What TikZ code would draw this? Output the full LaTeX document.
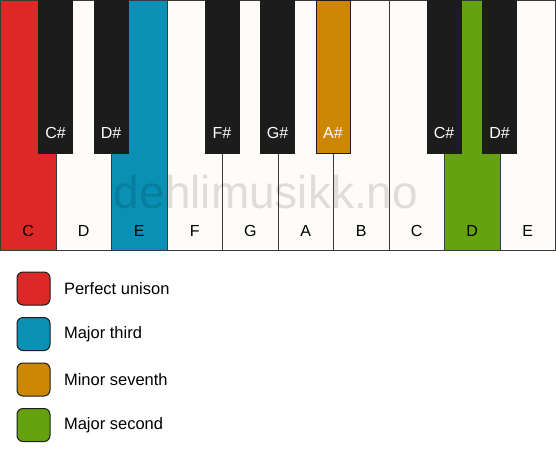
\documentclass[tikz,border=0pt]{standalone}
\usepackage{fontspec}
\setmainfont{Liberation Sans}
\usetikzlibrary{positioning}

\definecolor{ivory}{HTML}{FDFCF9}
\definecolor{ebony}{HTML}{1C1C1C}
\definecolor{keyedge}{HTML}{3A3A3A}
\definecolor{unisonred}{HTML}{DD2828}
\definecolor{thirdblue}{HTML}{0A90B4}
\definecolor{seventhorange}{HTML}{CC8805}
\definecolor{secondgreen}{HTML}{64A30F}

\tikzset{
  whitekey/.style={draw=keyedge, line width=1pt, anchor=north west,
    inner sep=0pt, minimum width=55.5pt, minimum height=250pt},
  blackkey/.style={draw=ebony, line width=1pt, anchor=north,
    inner sep=0pt, minimum width=34pt, minimum height=153pt},
  keyname/.style={font=\fontsize{16}{18}\selectfont, text=black},
  sharpname/.style={keyname, text=white},
  swatch/.style={draw=ebony, line width=1pt, rounded corners=6pt,
    minimum size=33pt, inner sep=0pt},
  legendtext/.style={font=\fontsize{16.5}{19}\selectfont, anchor=west}
}

\begin{document}
\begin{tikzpicture}[x=1pt, y=-1pt]
  \useasboundingbox (0,0) rectangle (556,461);
  % white keys
  \foreach \n/\lab/\col in {1/C/unisonred, 2/D/ivory, 3/E/thirdblue,
      4/F/ivory, 5/G/ivory, 6/A/ivory, 7/B/ivory, 8/C/ivory,
      9/D/secondgreen, 10/E/ivory} {
    \node[whitekey, fill=\col] (w\n) at ({(\n-1)*55.5}, 0) {};
    \node[keyname] (wl\n) at ([yshift=20pt]w\n.south) {\lab};
  }
  % watermark
  \node[font=\fontsize{46}{50}\selectfont, text=black, text opacity=0.12]
    (mark) at (266, 192) {dehlimusikk.no};
  % black keys, centred on the gaps
  \foreach \n/\lab/\col in {1/C\#/ebony, 2/D\#/ebony, 4/F\#/ebony,
      5/G\#/ebony, 6/A\#/seventhorange, 8/C\#/ebony, 9/D\#/ebony} {
    \node[blackkey, fill=\col] (b\n) at ({\n*55.5}, 0) {};
    \node[sharpname] (bl\n) at ([yshift=21pt]b\n.south) {\lab};
  }
  % legend
  \node[swatch, fill=unisonred] (s1) at (33.5, 288.5) {};
  \node[swatch, fill=thirdblue, below=11.5pt of s1] (s2) {};
  \node[swatch, fill=seventhorange, below=11.5pt of s2] (s3) {};
  \node[swatch, fill=secondgreen, below=11.5pt of s3] (s4) {};
  \node[legendtext, right=10pt of s1] (t1) {Perfect unison};
  \node[legendtext, right=10pt of s2] (t2) {Major third};
  \node[legendtext, right=10pt of s3] (t3) {Minor seventh};
  \node[legendtext, right=10pt of s4] (t4) {Major second};
\end{tikzpicture}
\end{document}
